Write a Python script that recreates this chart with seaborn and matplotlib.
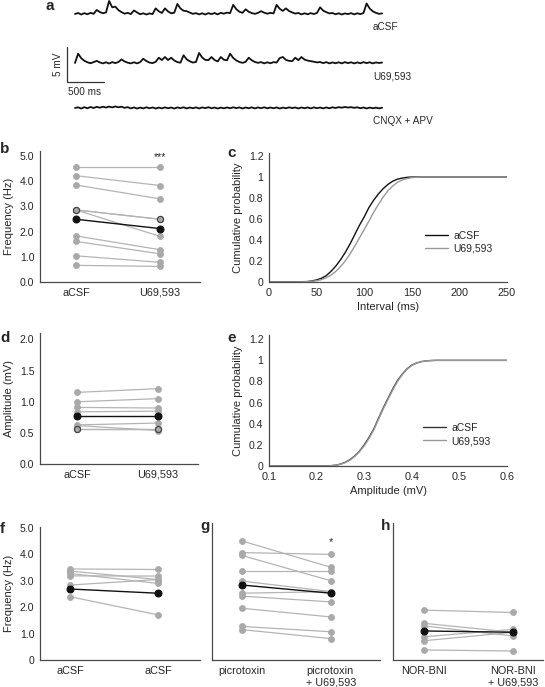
import numpy as np
import pandas as pd
import matplotlib
matplotlib.use('Agg')
import matplotlib.pyplot as plt
import seaborn as sns

# ---- data ----
# panel a : example traces (mV above baseline, 100 samples over ~4.15 s)
trace_acsf = [
    0.00, 0.14, -0.08, 0.12, -0.04, 0.16, 0.02, 0.57, 0.28, 0.10,
    0.22, 1.86, 0.95, 1.05, 0.55, 0.26, 0.04, 0.16, -0.02, 0.50,
    0.22, -0.04, 0.10, -0.08, 0.08, -0.02, 0.80, 0.38, 0.14, 0.80,
    0.36, 0.10, 0.18, 1.43, 0.78, 0.46, 0.40, 0.20, 0.02, 0.12,
    -0.06, 0.10, -0.08, 0.12, -0.02, 0.14, -0.06, 0.16, 0.04, 0.20,
    0.12, 1.30, 0.68, 0.32, 0.16, 0.67, 0.32, 0.12, 0.02, 0.16,
    0.40, 0.18, 0.04, 0.16, 0.08, 1.30, 0.74, 0.44, 0.80, 0.42,
    0.22, 0.06, 0.14, -0.06, 0.10, -0.04, 0.12, 0.00, 0.14, 0.95,
    0.48, 0.26, 0.08, 0.14, -0.04, 0.10, -0.08, 0.08, -0.02, 0.12,
    -0.06, 0.10, -0.02, 0.14, 1.50, 0.78, 0.38, 0.16, 0.02, 0.08,
]
trace_u69 = [
    0.00, 1.33, 0.68, 0.32, 0.10, -0.04, 0.12, 0.30, 0.08, -0.06,
    0.10, -0.08, 0.12, -0.02, 0.14, 0.50, 0.22, 0.04, -0.06, 0.10,
    -0.06, 0.12, 0.60, 0.28, 0.06, -0.02, 0.16, 0.75, 0.42, 0.85,
    0.42, 0.75, 0.36, 0.12, 0.04, 1.10, 0.52, 0.24, 0.06, 0.14,
    1.43, 0.78, 0.44, 0.40, 0.85, 0.42, 0.22, 0.85, 0.46, 0.38,
    1.33, 0.72, 0.36, 0.14, 0.02, 0.16, 0.75, 0.38, 0.14, 0.02,
    0.12, -0.06, 0.10, -0.04, 0.12, 0.06, 0.70, 0.85, 0.44, 0.30,
    0.26, 0.75, 0.40, 0.85, 0.48, 0.34, 0.26, 0.18, 0.08, 0.14,
    -0.02, 0.12, -0.06, 0.08, -0.04, 0.10, -0.06, 0.12, -0.02, 0.10,
    -0.06, 0.08, -0.04, 0.12, -0.02, 0.10, -0.06, 0.08, 0.00, 0.06,
]
trace_cnqx = [
    0.00, 0.10, -0.08, 0.12, -0.04, 0.14, 0.00, 0.16, 0.04, 0.18,
    0.06, 0.20, 0.08, 0.22, 0.10, 0.18, 0.02, 0.12, -0.06, 0.08,
    -0.08, 0.06, -0.06, 0.10, -0.04, 0.08, -0.08, 0.06, -0.06, 0.09,
    -0.04, 0.07, -0.08, 0.08, -0.03, 0.10, -0.06, 0.07, -0.04, 0.09,
    -0.07, 0.08, -0.02, 0.11, -0.04, 0.07, -0.08, 0.06, -0.05, 0.08,
    -0.04, 0.10, -0.02, 0.08, -0.07, 0.07, -0.04, 0.09, -0.06, 0.08,
    -0.03, 0.10, -0.05, 0.07, -0.04, 0.08, -0.08, 0.06, -0.04, 0.09,
    -0.02, 0.08, -0.07, 0.07, -0.04, 0.08, -0.06, 0.09, -0.03, 0.07,
    -0.06, 0.08, -0.04, 0.10, 0.00, 0.12, 0.04, 0.14, 0.06, 0.12,
    0.02, 0.10, -0.04, 0.07, -0.07, 0.06, -0.04, 0.05, -0.06, 0.04,
]
trace_names = ['aCSF', 'U69,593', 'CNQX + APV']

# panel b : frequency per cell (Hz)
b_labels = ['aCSF', 'U69,593']
b_pre = [4.55, 4.22, 3.85, 2.86, 2.86, 1.83, 1.61, 1.04, 0.66]
b_post = [4.55, 3.83, 3.30, 2.49, 1.81, 1.28, 1.12, 0.78, 0.62]
b_mean = [2.49, 2.12]

# panel c : cumulative inter-event interval
c_interval = [0, 20, 40, 45, 50, 55, 60, 65, 70, 75, 80, 85, 90, 95, 100, 105, 110,
              115, 120, 125, 130, 135, 140, 145, 150, 155, 160, 180, 200, 250]
c_acsf = [0, 0, 0.004, 0.010, 0.020, 0.035, 0.060, 0.10, 0.15, 0.21, 0.28, 0.36, 0.45,
          0.54, 0.62, 0.71, 0.78, 0.84, 0.89, 0.93, 0.96, 0.98, 0.99, 0.997, 1.0, 1.0,
          1.0, 1.0, 1.0, 1.0]
c_u69 = [0, 0, 0.003, 0.007, 0.012, 0.022, 0.040, 0.065, 0.10, 0.145, 0.20, 0.265, 0.34,
         0.42, 0.50, 0.58, 0.665, 0.74, 0.81, 0.87, 0.915, 0.95, 0.972, 0.986, 0.994,
         0.998, 1.0, 1.0, 1.0, 1.0]

# panel d : amplitude per cell (mV)
d_pre = [1.15, 1.00, 0.91, 0.84, 0.63, 0.62, 0.57]
d_post = [1.21, 1.05, 0.90, 0.85, 0.66, 0.54, 0.57]
d_mean = [0.77, 0.77]

# panel e : cumulative amplitude
e_amp = [0.10, 0.20, 0.21, 0.22, 0.23, 0.24, 0.25, 0.26, 0.27, 0.28, 0.29, 0.30, 0.31,
         0.32, 0.33, 0.34, 0.35, 0.36, 0.37, 0.38, 0.39, 0.40, 0.41, 0.42, 0.43, 0.44,
         0.45, 0.50, 0.60]
e_acsf = [0, 0, 0, 0.001, 0.003, 0.008, 0.018, 0.035, 0.06, 0.095, 0.14, 0.20, 0.27,
          0.35, 0.45, 0.55, 0.64, 0.73, 0.81, 0.87, 0.92, 0.955, 0.975, 0.988, 0.995,
          0.998, 1.0, 1.0, 1.0]
e_u69 = [0, 0, 0, 0.001, 0.002, 0.007, 0.016, 0.032, 0.055, 0.09, 0.135, 0.19, 0.26,
         0.34, 0.44, 0.54, 0.63, 0.72, 0.80, 0.865, 0.915, 0.952, 0.974, 0.987, 0.995,
         0.998, 1.0, 1.0, 1.0]

# panels f, g, h : frequency per cell (Hz)
f_labels = ['aCSF', 'aCSF']
f_pre = [3.45, 3.37, 3.28, 3.19, 2.84, 2.40]
f_post = [3.43, 3.05, 2.90, 3.18, 3.05, 1.71]
f_mean = [2.69, 2.53]

g_labels = ['picrotoxin', 'picrotoxin\n+ U69,593']
g_pre = [4.51, 4.07, 3.96, 3.38, 2.99, 2.53, 2.42, 1.96, 1.27, 1.15]
g_post = [3.51, 4.00, 3.00, 3.38, 2.59, 2.59, 2.20, 1.63, 1.07, 0.81]
g_mean = [2.84, 2.53]

h_labels = ['NOR-BNI', 'NOR-BNI\n+ U69,593']
h_pre = [1.89, 1.39, 1.29, 0.88, 0.73, 0.38]
h_post = [1.80, 1.05, 0.91, 1.16, 1.05, 0.34]
h_mean = [1.10, 1.05]

# ---- style ----
sns.set_style('ticks')
plt.rcParams['font.family'] = ['Liberation Sans', 'DejaVu Sans']
plt.rcParams['font.size'] = 7.8
plt.rcParams['axes.labelsize'] = 8
plt.rcParams['xtick.labelsize'] = 7.8
plt.rcParams['ytick.labelsize'] = 7.6
plt.rcParams['axes.edgecolor'] = '#4a4a4a'
plt.rcParams['axes.linewidth'] = 0.9

DOT = '#a9a9a9'
LINE = '#b4b4b4'
DARK = '#111111'

W, H = 545, 687
fig = plt.figure(figsize=(W / 100, H / 100), dpi=100)


def box(l, t, r, b):
    return [l / W, 1 - b / H, (r - l) / W, (b - t) / H]


def letter(x, y, s):
    fig.text(x / W, 1 - y / H, s, fontsize=11, fontweight='bold', va='baseline', ha='left')


def paired(ax, pre, post, mean, labels, outlined=None):
    n = len(pre)
    df = pd.DataFrame({'cell': list(range(n)) * 2,
                       'cond': [0] * n + [1] * n,
                       'value': list(pre) + list(post)})
    sns.lineplot(data=df, x='cond', y='value', units='cell', estimator=None,
                 color=LINE, linewidth=0.9, marker='o', markersize=4.4,
                 markerfacecolor=DOT, markeredgecolor=DOT, markeredgewidth=0.5,
                 legend=False, ax=ax)
    if outlined is not None:
        sub = df[df['cell'] == outlined]
        sns.lineplot(data=sub, x='cond', y='value', color=LINE, linewidth=0.9,
                     marker='o', markersize=4.4, markerfacecolor=DOT,
                     markeredgecolor='#444444', markeredgewidth=0.9,
                     legend=False, ax=ax)
    mdf = pd.DataFrame({'cond': [0, 1], 'value': mean})
    sns.lineplot(data=mdf, x='cond', y='value', color=DARK, linewidth=1.0,
                 marker='o', markersize=5, markerfacecolor=DARK,
                 markeredgecolor=DARK, legend=False, ax=ax, zorder=5)
    ax.set_xticks([0, 1])
    ax.set_xticklabels(labels)
    ax.set_xlabel('')
    ax.set_ylabel('')
    ax.tick_params(length=0, pad=4)
    sns.despine(ax=ax)


# ---- panel a ----
ax_a = fig.add_axes(box(40, 0, 430, 135))
ms_per_px = 500 / 37
mv_per_px = 1 / 7
for tr, base, name in zip([trace_acsf, trace_u69, trace_cnqx], [17.29, 10.29, 3.86], trace_names):
    t = np.linspace(0, 4150, len(tr))
    sns.lineplot(x=t, y=np.array(tr) + base, color=DARK, linewidth=1.3, ax=ax_a)
    ax_a.text(298 * ms_per_px, base - 1.9, name, fontsize=7.2, ha='left', va='center')
ax_a.plot([-108, -108, 392], [12.57, 7.57, 7.57], color='#333333', linewidth=0.9)
ax_a.text(-230, 10.1, '5 mV', rotation=90, ha='center', va='center', fontsize=7.2)
ax_a.text(135, 6.1, '500 ms', ha='center', va='center', fontsize=7.2)
ax_a.set_xlim(-35 * ms_per_px, 355 * ms_per_px)
ax_a.set_ylim(0, 135 * mv_per_px)
ax_a.axis('off')
letter(46, 9.5, 'a')

# ---- panel b ----
ax_b = fig.add_axes(box(40, 151, 200, 282))
paired(ax_b, b_pre, b_post, b_mean, b_labels, outlined=3)
ax_b.set_ylim(0, 5.2)
ax_b.set_xlim(-0.429, 1.476)
ax_b.set_yticks([0, 1, 2, 3, 4, 5])
ax_b.set_yticklabels(['0.0', '1.0', '2.0', '3.0', '4.0', '5.0'])
ax_b.set_ylabel('Frequency (Hz)')
ax_b.text(1, 4.96, '***', ha='center', va='center', fontsize=7.5)
letter(0, 153, 'b')

# ---- panel c ----
ax_c = fig.add_axes(box(269, 153.4, 507, 282))
sns.lineplot(x=c_interval, y=c_acsf, color=DARK, linewidth=1.0, label='aCSF', ax=ax_c)
sns.lineplot(x=c_interval, y=c_u69, color='#999999', linewidth=1.0, label='U69,593', ax=ax_c)
ax_c.set_xlim(0, 250)
ax_c.set_ylim(0, 1.225)
ax_c.set_xticks([0, 50, 100, 150, 200, 250])
ax_c.set_yticks([0, 0.2, 0.4, 0.6, 0.8, 1.0, 1.2])
ax_c.set_yticklabels(['0', '0.2', '0.4', '0.6', '0.8', '1', '1.2'])
ax_c.set_xlabel('Interval (ms)', labelpad=3)
ax_c.set_ylabel('Cumulative probability')
ax_c.tick_params(length=0, pad=4)
ax_c.legend(loc='upper left', bbox_to_anchor=(0.64, 0.43), frameon=False, fontsize=7.5,
            handlelength=2.2, handletextpad=0.5, borderaxespad=0, labelspacing=0.3)
sns.despine(ax=ax_c)
letter(227, 157, 'c')

# ---- panel d ----
ax_d = fig.add_axes(box(40, 333, 198, 464.3))
paired(ax_d, d_pre, d_post, d_mean, b_labels, outlined=6)
ax_d.set_ylim(0, 2.1)
ax_d.set_xlim(-0.457, 1.494)
ax_d.set_yticks([0, 0.5, 1.0, 1.5, 2.0])
ax_d.set_yticklabels(['0.0', '0.5', '1.0', '1.5', '2.0'])
ax_d.set_ylabel('Amplitude (mV)')
letter(0, 342, 'd')

# ---- panel e ----
ax_e = fig.add_axes(box(269, 335, 507, 466))
sns.lineplot(x=e_amp, y=e_acsf, color='#333333', linewidth=1.0, label='aCSF', ax=ax_e)
sns.lineplot(x=e_amp, y=e_u69, color='#999999', linewidth=1.0, label='U69,593', ax=ax_e)
ax_e.set_xlim(0.1, 0.6)
ax_e.set_ylim(0, 1.24)
ax_e.set_xticks([0.1, 0.2, 0.3, 0.4, 0.5, 0.6])
ax_e.set_yticks([0, 0.2, 0.4, 0.6, 0.8, 1.0, 1.2])
ax_e.set_yticklabels(['0', '0.2', '0.4', '0.6', '0.8', '1', '1.2'])
ax_e.set_xlabel('Amplitude (mV)', labelpad=3)
ax_e.set_ylabel('Cumulative probability')
ax_e.tick_params(length=0, pad=4)
ax_e.legend(loc='upper left', bbox_to_anchor=(0.63, 0.36), frameon=False, fontsize=7.5,
            handlelength=2.2, handletextpad=0.5, borderaxespad=0, labelspacing=0.3)
sns.despine(ax=ax_e)
letter(227, 342, 'e')

# ---- panel f ----
ax_f = fig.add_axes(box(40, 527, 200, 660))
paired(ax_f, f_pre, f_post, f_mean, f_labels)
ax_f.set_ylim(0, 5.04)
ax_f.set_xlim(-0.34, 1.477)
ax_f.set_yticks([0, 1, 2, 3, 4, 5])
ax_f.set_yticklabels(['0', '1.0', '2.0', '3.0', '4.0', '5.0'])
ax_f.set_ylabel('Frequency (Hz)')
letter(0, 533, 'f')

# ---- panel g ----
ax_g = fig.add_axes(box(212, 523, 380, 660))
paired(ax_g, g_pre, g_post, g_mean, g_labels)
ax_g.set_ylim(0, 5.19)
ax_g.set_xlim(-0.337, 1.55)
ax_g.set_yticks([])
ax_g.text(1, 4.47, '*', ha='center', va='center', fontsize=8)
for lab in ax_g.get_xticklabels():
    lab.set_multialignment('left')
letter(200, 530, 'g')

# ---- panel h ----
ax_h = fig.add_axes(box(393, 523, 543, 660))
paired(ax_h, h_pre, h_post, h_mean, h_labels)
ax_h.set_ylim(0, 5.19)
ax_h.set_xlim(-0.348, 1.337)
ax_h.set_yticks([])
letter(381, 530, 'h')

fig.savefig('out.png', dpi=100)
